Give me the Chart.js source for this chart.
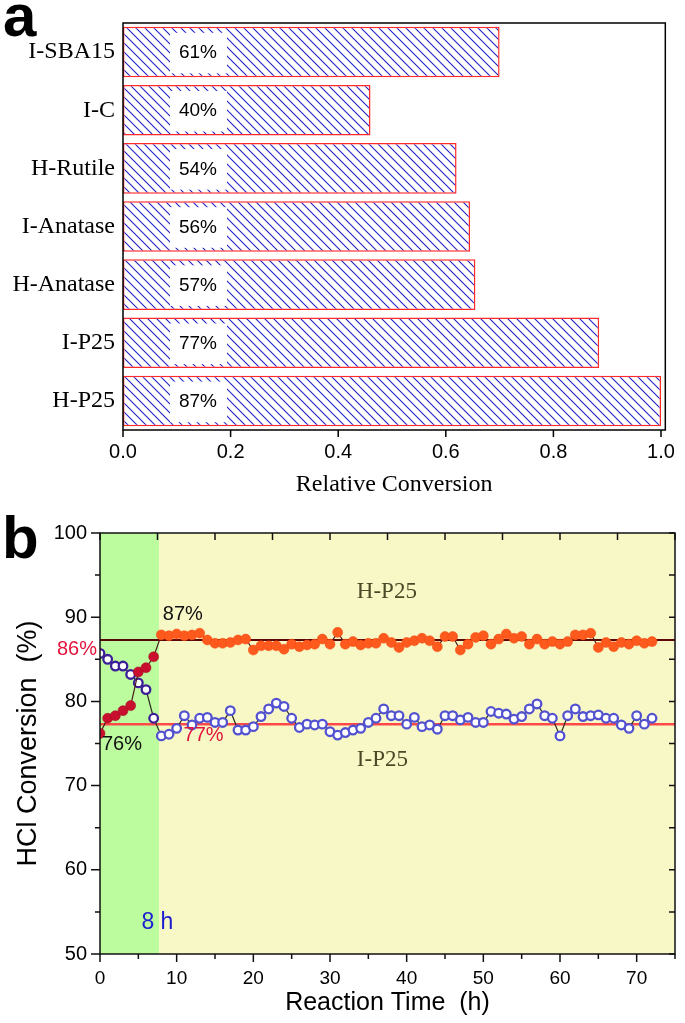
<!DOCTYPE html>
<html>
<head>
<meta charset="utf-8">
<script src="https://cdn.jsdelivr.net/npm/chart.js@4.4.0/dist/chart.umd.min.js"></script>
<style>
  html, body { margin: 0; padding: 0; background: #fff; }
  #wrap { position: relative; width: 685px; height: 1023px; }
  canvas { position: absolute; left: 0; }
  #chartA { top: 0; }
  #chartB { top: 500px; }
</style>
</head>
<body>
<div id="wrap">
  <canvas id="chartA" width="685" height="500"></canvas>
  <canvas id="chartB" width="685" height="523"></canvas>
</div>
<script>
// ---- panel a : relative conversion ----
var catalysts = ['I-SBA15', 'I-C', 'H-Rutile', 'I-Anatase', 'H-Anatase', 'I-P25', 'H-P25'];
var relConv = [0.70, 0.46, 0.62, 0.645, 0.655, 0.885, 1.0];
var convLabels = ['61%', '40%', '54%', '56%', '57%', '77%', '87%'];
var relTicks = [0, 0.2, 0.4, 0.6, 0.8, 1.0];

// ---- panel b : HCl conversion vs time ----
var hours = [0, 1, 2, 3, 4, 5, 6, 7, 8, 9, 10, 11, 12, 13, 14, 15, 16, 17, 18, 19,
  20, 21, 22, 23, 24, 25, 26, 27, 28, 29, 30, 31, 32, 33, 34, 35, 36, 37, 38, 39,
  40, 41, 42, 43, 44, 45, 46, 47, 48, 49, 50, 51, 52, 53, 54, 55, 56, 57, 58, 59,
  60, 61, 62, 63, 64, 65, 66, 67, 68, 69, 70, 71, 72];
var hP25 = [76.2, 78.0, 78.3, 78.9, 79.5, 83.5, 84.0, 85.3, 87.9, 87.8,
  88.0, 87.8, 87.9, 88.1, 87.3, 86.9, 86.9, 87.0, 87.3, 87.4,
  86.1, 86.6, 86.6, 86.6, 86.2, 86.8, 86.5, 86.7, 86.8, 87.4,
  86.8, 88.2, 86.8, 87.1, 86.7, 86.9, 86.9, 87.5, 87.0, 86.4,
  87.0, 87.2, 87.5, 87.2, 86.5, 87.7, 87.7, 86.1, 86.8, 87.6,
  87.8, 86.8, 87.4, 88.0, 87.5, 87.7, 86.8, 87.4, 86.8, 87.1,
  86.8, 87.1, 87.9, 87.9, 88.1, 86.4, 87.0, 86.5, 87.0, 86.8,
  87.2, 86.9, 87.1];
var iP25 = [85.7, 85.0, 84.2, 84.2, 83.2, 82.2, 81.4, 78.0, 75.9, 76.1,
  76.8, 78.3, 77.2, 78.0, 78.1, 77.5, 77.5, 78.9, 76.6, 76.6,
  77.0, 78.2, 79.1, 79.8, 79.4, 78.0, 76.9, 77.3, 77.2, 77.3,
  76.4, 76.0, 76.3, 76.6, 76.8, 77.5, 78.0, 79.1, 78.3, 78.3,
  77.3, 78.1, 77.0, 77.2, 76.7, 78.3, 78.3, 77.8, 78.1, 77.5,
  77.5, 78.8, 78.6, 78.5, 77.9, 78.2, 79.1, 79.7, 78.3, 78.0,
  75.9, 78.3, 79.1, 78.2, 78.3, 78.4, 78.0, 78.0, 77.2, 76.8,
  78.3, 77.3, 78.0];
var avgLevels = [87.3, 77.3];    // H-P25, I-P25 steady lines
var timeRange = [0, 75];
var initialPeriod = 7.7;         // green zone, first 8 h

var SANS = '"Liberation Sans", Arial, sans-serif';
var SERIF = '"Liberation Serif", "Times New Roman", serif';

function xy(xs, ys) {
  return xs.map(function(x, i) { return { x: x, y: ys[i] }; });
}

// hatch fill for the bars
function hatch(ctx) {
  var s = 9;
  var c = document.createElement('canvas');
  c.width = s; c.height = s;
  var g = c.getContext('2d');
  g.fillStyle = '#fff';
  g.fillRect(0, 0, s, s);
  g.strokeStyle = '#2222cc';
  g.lineWidth = 1.1;
  g.beginPath();
  g.moveTo(0, 0); g.lineTo(s, s);
  g.moveTo(-1, s - 1); g.lineTo(1, s + 1);
  g.moveTo(s - 1, -1); g.lineTo(s + 1, 1);
  g.stroke();
  return ctx.createPattern(c, 'repeat');
}

var ctxA = document.getElementById('chartA').getContext('2d');

var barDecor = {
  id: 'barDecor',
  afterDatasetsDraw: function(chart) {
    var ctx = chart.ctx, a = chart.chartArea, xs = chart.scales.x;
    ctx.save();
    // percent labels on white boxes
    chart.getDatasetMeta(0).data.forEach(function(bar, i) {
      var top = bar.y - bar.height / 2;
      ctx.fillStyle = '#fff';
      ctx.fillRect(bar.base + 47, top + 6, 57, bar.height - 10);
      ctx.fillStyle = '#000';
      ctx.font = '19px ' + SANS;
      ctx.textAlign = 'center';
      ctx.textBaseline = 'middle';
      ctx.fillText(convLabels[i], bar.base + 75, bar.y + 1);
    });
    // frame + ticks
    ctx.strokeStyle = '#000';
    ctx.lineWidth = 1.5;
    ctx.strokeRect(a.left, a.top, a.right - a.left, a.bottom - a.top);
    ctx.beginPath();
    relTicks.forEach(function(v) {
      var x = xs.getPixelForValue(v);
      ctx.moveTo(x, a.bottom); ctx.lineTo(x, a.bottom + 7);
    });
    ctx.stroke();
    // panel letter
    ctx.fillStyle = '#000';
    ctx.font = 'bold 60px ' + SANS;
    ctx.textAlign = 'left';
    ctx.textBaseline = 'alphabetic';
    ctx.fillText('a', 3, 36);
    ctx.restore();
  }
};

new Chart(ctxA, {
  type: 'bar',
  data: {
    labels: catalysts,
    datasets: [{
      data: relConv,
      backgroundColor: hatch(ctxA),
      borderColor: '#ff2a2a',
      borderWidth: 1.5,
      borderSkipped: false,
      barPercentage: 0.87,
      categoryPercentage: 1
    }]
  },
  options: {
    indexAxis: 'y',
    responsive: false,
    animation: false,
    layout: { padding: { top: 23, right: 11, left: 0, bottom: 0 } },
    plugins: { legend: { display: false }, tooltip: { enabled: false } },
    scales: {
      x: {
        min: 0, max: 1.008,
        grid: { display: false, drawTicks: false },
        border: { display: false },
        ticks: {
          stepSize: 0.2, includeBounds: false, padding: 10,
          color: '#000', font: { family: SANS, size: 20 },
          callback: function(v) { return v.toFixed(1); }
        },
        title: {
          display: true, text: 'Relative Conversion', color: '#000',
          font: { family: SERIF, size: 24 }, padding: { top: 0, bottom: 1 }
        },
        afterFit: function(s) { s.height = 70; }
      },
      y: {
        grid: { display: false, drawTicks: false },
        border: { display: false },
        ticks: { color: '#000', padding: 8, font: { family: SERIF, size: 24 } },
        afterFit: function(s) { s.width = 123; }
      }
    }
  },
  plugins: [barDecor]
});

// ---- panel b ----
var ctxB = document.getElementById('chartB').getContext('2d');

var plotDecor = {
  id: 'plotDecor',
  beforeDatasetsDraw: function(chart) {
    var ctx = chart.ctx, a = chart.chartArea, xs = chart.scales.x;
    ctx.save();
    ctx.fillStyle = '#f8f8c6';
    ctx.fillRect(a.left, a.top, a.right - a.left, a.bottom - a.top);
    ctx.fillStyle = '#bcfb9e';
    ctx.fillRect(a.left, a.top, xs.getPixelForValue(initialPeriod) - a.left, a.bottom - a.top);
    ctx.restore();
  },
  afterDatasetsDraw: function(chart) {
    var ctx = chart.ctx, a = chart.chartArea, xs = chart.scales.x, ys = chart.scales.y;
    var v;
    ctx.save();
    ctx.strokeStyle = '#111';
    ctx.lineWidth = 1.5;
    ctx.strokeRect(a.left, a.top, a.right - a.left, a.bottom - a.top);
    ctx.beginPath();
    for (v = 50; v <= 100; v += 5) {
      var y = ys.getPixelForValue(v);
      var ll = v % 10 === 0 ? 9 : 5;
      ctx.moveTo(a.left - ll, y); ctx.lineTo(a.left, y);
      ctx.moveTo(a.right - 6, y); ctx.lineTo(a.right, y);
    }
    for (v = 0; v <= 75; v += 5) {
      var x = xs.getPixelForValue(v);
      var bl = v % 10 === 0 ? 8 : 5;
      ctx.moveTo(x, a.bottom); ctx.lineTo(x, a.bottom + bl);
    }
    for (v = 0; v <= 75; v += 7.5) {
      var xt = xs.getPixelForValue(v);
      ctx.moveTo(xt, a.top); ctx.lineTo(xt, a.top + 7);
    }
    ctx.stroke();

    function note(text, x, y, font, color, align) {
      ctx.font = font;
      ctx.fillStyle = color;
      ctx.textAlign = align || 'left';
      ctx.textBaseline = 'middle';
      ctx.fillText(text, xs.getPixelForValue(x), ys.getPixelForValue(y));
    }
    note('87%', 8.2, 90.3, '20px ' + SANS, '#111');
    note('86%', -0.4, 86.2, '20px ' + SANS, '#e2143c', 'right');
    note('76%', 0.25, 74.9, '20px ' + SANS, '#111');
    note('77%', 10.9, 75.9, '20px ' + SANS, '#e2143c');
    note('H-P25', 33.5, 93.0, '23px ' + SERIF, '#4a4a28');
    note('I-P25', 33.5, 73.0, '23px ' + SERIF, '#4a4a28');
    note('8 h', 5.4, 53.7, '23px ' + SANS, '#1c1cd2');

    ctx.fillStyle = '#000';
    ctx.font = 'bold 60px ' + SANS;
    ctx.textAlign = 'left';
    ctx.textBaseline = 'alphabetic';
    ctx.fillText('b', 2, 58);
    ctx.restore();
  }
};

function early(c) { return c.raw && c.raw.x < 7.5; }

new Chart(ctxB, {
  type: 'line',
  data: {
    datasets: [{
      label: 'H-P25',
      data: xy(hours, hP25),
      borderColor: '#4a1a1a',
      borderWidth: 1.2,
      pointRadius: 5,
      pointBorderWidth: 0.5,
      pointBackgroundColor: function(c) { return early(c) ? '#c8102e' : '#ff5a1e'; },
      pointBorderColor: function(c) { return early(c) ? '#a00a20' : '#f04a10'; }
    }, {
      label: 'I-P25',
      data: xy(hours, iP25),
      borderColor: '#2e2a22',
      borderWidth: 1.2,
      pointRadius: 4.3,
      pointBorderWidth: 2.3,
      pointBackgroundColor: '#ffffff',
      pointBorderColor: function(c) { return early(c) ? '#3c1e96' : '#5252d0'; }
    }, {
      label: 'H-P25 level',
      data: xy(timeRange, [avgLevels[0], avgLevels[0]]),
      borderColor: '#5a0606',
      borderWidth: 2,
      pointRadius: 0
    }, {
      label: 'I-P25 level',
      data: xy(timeRange, [avgLevels[1], avgLevels[1]]),
      borderColor: '#ff4848',
      borderWidth: 2.5,
      pointRadius: 0
    }]
  },
  options: {
    responsive: false,
    animation: false,
    layout: { padding: { top: 33, right: 10, left: 0, bottom: 0 } },
    plugins: { legend: { display: false }, tooltip: { enabled: false } },
    scales: {
      x: {
        type: 'linear', min: 0, max: 75,
        grid: { display: false, drawTicks: false },
        border: { display: false },
        ticks: {
          stepSize: 10, includeBounds: false, padding: 13, maxRotation: 0,
          color: '#000', font: { family: SANS, size: 19 }
        },
        title: {
          display: true, text: 'Reaction Time  (h)', color: '#000',
          font: { family: SANS, size: 25 }, padding: { top: 0, bottom: 5 }
        },
        afterFit: function(s) { s.height = 69; }
      },
      y: {
        min: 50, max: 100,
        grid: { display: false, drawTicks: false },
        border: { display: false },
        ticks: { stepSize: 10, padding: 13, color: '#000', font: { family: SANS, size: 20 } },
        title: {
          display: true, text: 'HCl Conversion  (%)', color: '#000',
          font: { family: SANS, size: 27 }, padding: { top: 12, bottom: 0 }
        },
        afterFit: function(s) { s.width = 100; }
      }
    }
  },
  plugins: [plotDecor]
});
</script>
</body>
</html>
